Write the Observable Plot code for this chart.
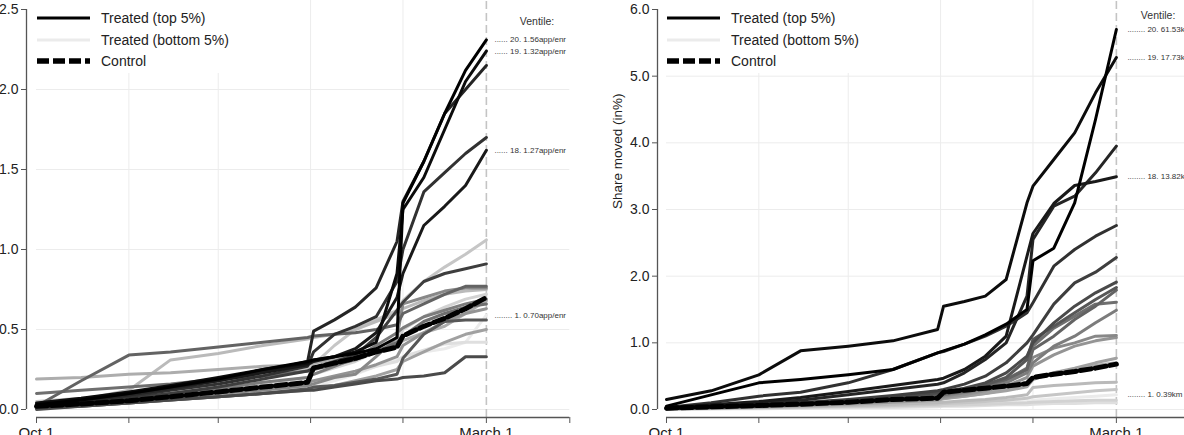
<!DOCTYPE html>
<html>
<head>
<meta charset="utf-8">
<script src="https://cdn.jsdelivr.net/npm/d3@7"></script>
<script src="https://cdn.jsdelivr.net/npm/@observablehq/plot@0.6"></script>
<style>
  body { margin: 0; background: #fff; }
  #wrap { position: relative; width: 1184px; height: 435px; overflow: hidden; background: #fff;
          font-family: "Liberation Sans", Arial, sans-serif; }
  .panel { position: absolute; top: 0; }
</style>
</head>
<body>
<div id="wrap"></div>
<script>
// ---- Data (days since Oct 1) ----
const days = [0, 15, 31, 45, 61, 76, 91, 93, 100, 107, 114, 121, 123, 130, 137, 144, 151];
const tickDays = [0, 31, 61, 92, 123, 151, 179];
const tickLabels = ["Oct 1", "", "", "", "", "March 1", ""];
const gridDays = [31, 61, 92, 123];
const markerDay = 151;

// Left panel: applications per enrollment, ventiles 1..20
const appSeries = [
  [0.01, 0.02, 0.04, 0.06, 0.09, 0.11, 0.14, 0.15, 0.18, 0.22, 0.27, 0.31, 0.33, 0.36, 0.38, 0.42, 0.59],
  [0.02, 0.03, 0.05, 0.07, 0.10, 0.13, 0.16, 0.17, 0.20, 0.23, 0.27, 0.30, 0.33, 0.37, 0.41, 0.42, 0.42],
  [0.03, 0.05, 0.07, 0.10, 0.13, 0.16, 0.20, 0.22, 0.26, 0.30, 0.36, 0.42, 0.50, 0.58, 0.64, 0.69, 0.72],
  [0.05, 0.07, 0.10, 0.14, 0.18, 0.22, 0.26, 0.28, 0.40, 0.50, 0.56, 0.62, 0.68, 0.80, 0.89, 0.97, 1.06],
  [0.03, 0.06, 0.12, 0.31, 0.35, 0.40, 0.44, 0.45, 0.47, 0.50, 0.55, 0.60, 0.63, 0.68, 0.72, 0.74, 0.75],
  [0.19, 0.20, 0.22, 0.23, 0.25, 0.27, 0.28, 0.29, 0.31, 0.34, 0.37, 0.40, 0.43, 0.48, 0.52, 0.60, 0.68],
  [0.01, 0.02, 0.04, 0.06, 0.08, 0.10, 0.12, 0.13, 0.15, 0.18, 0.21, 0.25, 0.30, 0.36, 0.42, 0.47, 0.50],
  [0.02, 0.04, 0.06, 0.08, 0.11, 0.14, 0.17, 0.18, 0.21, 0.24, 0.28, 0.33, 0.40, 0.48, 0.55, 0.60, 0.63],
  [0.01, 0.03, 0.05, 0.07, 0.10, 0.12, 0.15, 0.16, 0.20, 0.22, 0.33, 0.45, 0.66, 0.70, 0.74, 0.76, 0.76],
  [0.03, 0.05, 0.07, 0.10, 0.13, 0.17, 0.20, 0.22, 0.27, 0.32, 0.40, 0.48, 0.51, 0.58, 0.62, 0.66, 0.69],
  [0.10, 0.12, 0.14, 0.16, 0.19, 0.21, 0.24, 0.25, 0.28, 0.31, 0.36, 0.42, 0.46, 0.55, 0.60, 0.64, 0.66],
  [0.02, 0.18, 0.34, 0.36, 0.39, 0.42, 0.45, 0.46, 0.47, 0.48, 0.50, 0.53, 0.60, 0.66, 0.72, 0.77, 0.77],
  [0.01, 0.02, 0.04, 0.06, 0.08, 0.10, 0.13, 0.14, 0.15, 0.17, 0.19, 0.22, 0.32, 0.47, 0.55, 0.56, 0.56],
  [0.00, 0.02, 0.04, 0.06, 0.08, 0.10, 0.12, 0.12, 0.14, 0.16, 0.18, 0.19, 0.20, 0.21, 0.23, 0.33, 0.33],
  [0.02, 0.04, 0.07, 0.10, 0.14, 0.19, 0.24, 0.26, 0.30, 0.34, 0.45, 0.62, 0.67, 0.80, 0.85, 0.88, 0.91],
  [0.02, 0.05, 0.08, 0.12, 0.16, 0.21, 0.27, 0.36, 0.47, 0.52, 0.58, 0.80, 1.00, 1.36, 1.48, 1.60, 1.70],
  [0.02, 0.05, 0.09, 0.13, 0.18, 0.24, 0.30, 0.49, 0.56, 0.64, 0.76, 1.05, 1.30, 1.55, 1.85, 2.00, 2.15],
  [0.03, 0.06, 0.10, 0.14, 0.18, 0.23, 0.28, 0.30, 0.33, 0.38, 0.48, 0.70, 0.85, 1.15, 1.27, 1.40, 1.62],
  [0.04, 0.07, 0.11, 0.15, 0.20, 0.25, 0.29, 0.31, 0.33, 0.36, 0.42, 0.85, 1.25, 1.45, 1.75, 2.05, 2.24],
  [0.03, 0.06, 0.10, 0.14, 0.19, 0.25, 0.30, 0.31, 0.33, 0.35, 0.38, 0.45, 1.29, 1.55, 1.85, 2.12, 2.31]
];
const appControl = [0.02, 0.035, 0.055, 0.08, 0.11, 0.14, 0.17, 0.26, 0.29, 0.32, 0.36, 0.39, 0.46, 0.52, 0.57, 0.63, 0.70];
const appLabelVentiles = [20, 19, 18, 1];
const appLabelTexts = ["...... 20. 1.56app/enr", "...... 19. 1.32app/enr", "...... 18. 1.27app/enr", "........ 1. 0.70app/enr"];

// Right panel: share moved (in %), ventiles 1..20
const movedSeries = [
  [0.01, 0.02, 0.03, 0.04, 0.05, 0.06, 0.07, 0.08, 0.09, 0.10, 0.11, 0.12, 0.14, 0.16, 0.18, 0.20, 0.22],
  [0.00, 0.01, 0.01, 0.02, 0.03, 0.03, 0.04, 0.05, 0.05, 0.06, 0.07, 0.07, 0.08, 0.09, 0.09, 0.10, 0.10],
  [0.00, 0.01, 0.02, 0.03, 0.04, 0.05, 0.06, 0.06, 0.07, 0.08, 0.09, 0.10, 0.11, 0.12, 0.13, 0.14, 0.14],
  [0.01, 0.02, 0.03, 0.04, 0.05, 0.06, 0.08, 0.09, 0.10, 0.12, 0.14, 0.17, 0.19, 0.22, 0.25, 0.28, 0.30],
  [0.01, 0.02, 0.03, 0.04, 0.06, 0.08, 0.10, 0.11, 0.13, 0.15, 0.18, 0.22, 0.33, 0.36, 0.38, 0.40, 0.41],
  [0.02, 0.03, 0.05, 0.07, 0.09, 0.12, 0.15, 0.17, 0.20, 0.24, 0.30, 0.36, 0.48, 0.55, 0.60, 0.66, 0.70],
  [0.01, 0.02, 0.04, 0.06, 0.08, 0.11, 0.14, 0.16, 0.20, 0.24, 0.28, 0.34, 0.45, 0.55, 0.62, 0.70, 0.77],
  [0.01, 0.02, 0.04, 0.06, 0.09, 0.12, 0.16, 0.18, 0.22, 0.28, 0.35, 0.48, 0.65, 0.82, 0.95, 1.03, 1.08],
  [0.01, 0.03, 0.05, 0.07, 0.10, 0.14, 0.18, 0.20, 0.25, 0.30, 0.42, 0.60, 0.78, 0.92, 1.00, 1.10, 1.11],
  [0.02, 0.04, 0.06, 0.09, 0.12, 0.16, 0.20, 0.22, 0.26, 0.32, 0.40, 0.55, 0.70, 0.95, 1.10, 1.30, 1.49],
  [0.01, 0.03, 0.05, 0.07, 0.10, 0.15, 0.20, 0.22, 0.28, 0.35, 0.45, 0.62, 0.95, 1.22, 1.40, 1.58, 1.61],
  [0.03, 0.05, 0.07, 0.10, 0.14, 0.19, 0.24, 0.26, 0.31, 0.38, 0.45, 0.60, 0.90, 1.10, 1.35, 1.55, 1.79],
  [0.01, 0.03, 0.05, 0.08, 0.12, 0.17, 0.22, 0.24, 0.30, 0.37, 0.48, 0.75, 1.05, 1.25, 1.45, 1.65, 1.83],
  [0.02, 0.04, 0.06, 0.09, 0.13, 0.19, 0.25, 0.27, 0.32, 0.40, 0.55, 0.80, 1.00, 1.30, 1.55, 1.75, 1.91],
  [0.01, 0.04, 0.07, 0.10, 0.15, 0.21, 0.28, 0.30, 0.38, 0.50, 0.70, 1.00, 1.12, 1.58, 1.90, 2.06, 2.28],
  [0.03, 0.10, 0.20, 0.26, 0.40, 0.60, 0.85, 0.87, 0.98, 1.10, 1.25, 1.45, 1.60, 2.15, 2.40, 2.60, 2.76],
  [0.02, 0.06, 0.10, 0.14, 0.22, 0.30, 0.38, 0.40, 0.55, 0.75, 1.00, 1.70, 2.55, 3.05, 3.20, 3.55, 3.95],
  [0.03, 0.07, 0.12, 0.18, 0.27, 0.36, 0.45, 0.47, 0.60, 0.80, 1.10, 2.30, 2.64, 3.09, 3.36, 3.42, 3.49],
  [0.15, 0.28, 0.52, 0.88, 0.95, 1.03, 1.20, 1.55, 1.62, 1.70, 1.95, 3.10, 3.35, 3.75, 4.15, 4.75, 5.28],
  [0.05, 0.22, 0.40, 0.45, 0.52, 0.60, 0.85, 0.88, 0.98, 1.12, 1.28, 1.50, 2.23, 2.42, 3.10, 4.35, 5.70]
];
const movedControl = [0.02, 0.04, 0.06, 0.08, 0.11, 0.15, 0.17, 0.26, 0.29, 0.32, 0.35, 0.39, 0.48, 0.53, 0.57, 0.62, 0.68];
const movedLabelVentiles = [20, 19, 18, 1];
const movedLabelTexts = ["........ 20. 61.53km", "........ 19. 17.73km", "........ 18. 13.82km", "........ 1. 0.39km"];

const appYTicks = [0, 0.5, 1, 1.5, 2, 2.5];
const movedYTicks = [0, 1, 2, 3, 4, 5, 6];
const legendLabels = ["Treated (top 5%)", "Treated (bottom 5%)", "Control"];

// ---- Styling helpers ----
const FONT = '"Liberation Sans", Arial, sans-serif';
const gray = k => { const g = Math.round(235 * (20 - k) / 19); return `rgb(${g},${g},${g})`; };

function makePanel(cfg) {
  const rows = [];
  cfg.series.forEach((vals, i) => vals.forEach((v, j) => rows.push({ventile: i + 1, day: days[j], value: v})));
  const ctrl = cfg.control.map((v, j) => ({day: days[j], value: v}));
  const labs = cfg.labelVentiles.map((k, i) => ({day: cfg.labelDay, value: cfg.series[k - 1].at(-1), text: cfg.labelTexts[i]}));
  const yMin = cfg.yDomain[0], yTop = cfg.yDomain[1];
  const yMax = cfg.yTicks.at(-1);

  const marks = [
    Plot.ruleY(cfg.yTicks.filter(t => t < yMax), {x1: tickDays[0], x2: tickDays.at(-1), stroke: "#ececec", strokeWidth: 1}),
    Plot.ruleX(gridDays, {y1: 0, y2: yTop, stroke: "#ececec", strokeWidth: 1}),
    Plot.ruleX([markerDay], {y1: yMin, y2: yTop, stroke: "#c4c4c4", strokeWidth: 1.6, strokeDasharray: "8,4"}),
    Plot.line(rows, {x: "day", y: "value", z: "ventile", stroke: d => gray(d.ventile), strokeWidth: 3, strokeLinejoin: "round"}),
    Plot.line(ctrl, {x: "day", y: "value", stroke: "#000", strokeWidth: 5, strokeDasharray: "11,4"}),
    Plot.ruleY([yMin], {x1: tickDays[0], x2: tickDays.at(-1), stroke: "#555", strokeWidth: 1.3}),
    Plot.axisX({ticks: tickDays, tickFormat: d => tickLabels[tickDays.indexOf(d)], tickSize: 6, tickPadding: 4,
                fontSize: 15, stroke: "#555", fill: "#222", label: null}),
    Plot.ruleX([cfg.xDomain[0]], {y1: 0, y2: yMax, stroke: "#555", strokeWidth: 1.3}),
    Plot.axisY({ticks: cfg.yTicks, tickFormat: d3.format(".1f"), tickSize: 5, tickPadding: 3,
                fontSize: 14, stroke: "#555", fill: "#222", label: null}),
    Plot.text(labs, {x: "day", y: "value", text: "text", textAnchor: "start", fontSize: 8, fill: "#333"}),
    Plot.text(["Ventile:"], {x: cfg.headerDay, frameAnchor: "top", dy: cfg.headerDy, fontSize: 10.5, fill: "#333"})
  ];
  if (cfg.yLabel) {
    marks.push(Plot.text([cfg.yLabel], {frameAnchor: "left", rotate: -90, dx: cfg.yLabelDx, fontSize: 13.5, fill: "#222"}));
  }

  const svg = Plot.plot({
    width: cfg.width, height: 435,
    marginLeft: cfg.marginLeft, marginRight: cfg.marginRight, marginTop: 0, marginBottom: 18,
    x: {domain: cfg.xDomain},
    y: {domain: cfg.yDomain},
    color: {type: "identity"},
    style: {fontFamily: FONT, background: "transparent", overflow: "visible"},
    marks
  });

  // legend (inside the plot area, white box over the grid)
  const g = d3.select(svg).append("g").attr("text-anchor", "start");
  const lx = cfg.legendX;
  g.append("rect").attr("x", lx - 7).attr("y", 0).attr("width", 228).attr("height", 73).attr("fill", "#fff");
  const ys = [18, 40, 61];
  const styles = [
    {stroke: gray(20), w: 3, dash: null},
    {stroke: gray(1), w: 3, dash: null},
    {stroke: "#000", w: 5.5, dash: "12,4"}
  ];
  legendLabels.forEach((t, i) => {
    const ln = g.append("line").attr("x1", lx).attr("x2", lx + 53).attr("y1", ys[i]).attr("y2", ys[i])
      .attr("stroke", styles[i].stroke).attr("stroke-width", styles[i].w);
    if (styles[i].dash) ln.attr("stroke-dasharray", styles[i].dash);
    g.append("text").attr("x", lx + 64).attr("y", ys[i]).attr("dy", "0.36em").attr("text-anchor", "start")
      .attr("font-size", 14).attr("fill", "#222").attr("font-family", FONT).text(t);
  });
  return svg;
}

const wrap = document.getElementById("wrap");

const left = makePanel({
  series: appSeries, control: appControl, labelVentiles: appLabelVentiles, labelTexts: appLabelTexts,
  yTicks: appYTicks, yDomain: [-0.05, 2.55625], xDomain: [-3.36, 178.9],
  width: 592, marginLeft: 26, marginRight: 23, labelDay: 153.7, headerDay: 168, headerDy: 17,
  legendX: 37, yLabel: null
});
left.classList.add("panel"); left.style.left = "0px";
wrap.appendChild(left);

const right = makePanel({
  series: movedSeries, control: movedControl, labelVentiles: movedLabelVentiles, labelTexts: movedLabelTexts,
  yTicks: movedYTicks, yDomain: [-0.12, 6.135], xDomain: [-3.02, 178.9],
  width: 620, marginLeft: 65, marginRight: 13, labelDay: 154.7, headerDay: 165, headerDy: 11,
  legendX: 75, yLabel: "Share moved (in%)", yLabelDx: -40
});
right.classList.add("panel"); right.style.left = "592px";
wrap.appendChild(right);
</script>
</body>
</html>
